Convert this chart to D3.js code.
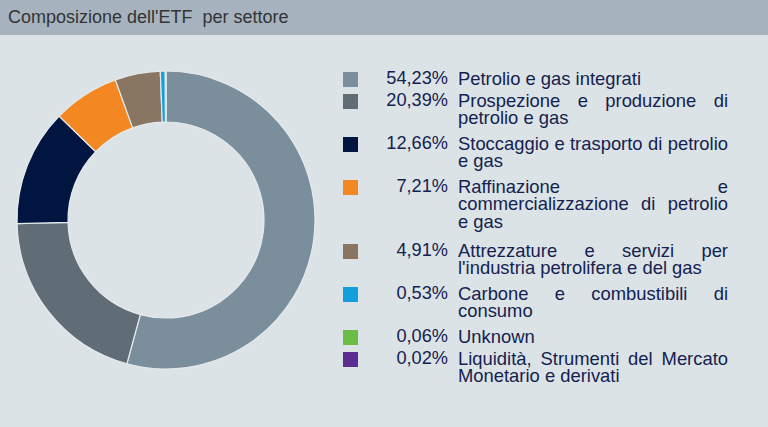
<!DOCTYPE html>
<html>
<head>
<meta charset="utf-8">
<script src="https://cdn.jsdelivr.net/npm/d3@7"></script>
<style>
  html, body { margin: 0; padding: 0; }
  body { width: 768px; height: 427px; background: #dce3e7; position: relative; overflow: hidden;
         font-family: "Liberation Sans", Arial, Helvetica, sans-serif; }
  #header { position: absolute; left: 0; top: 0; width: 768px; height: 35px; background: #a6b3bf; }
  #title { position: absolute; left: 8px; top: 6px; font-size: 18px; color: #333333; white-space: pre; line-height: 22px; }
  svg { position: absolute; left: 0; top: 0; }
  #legend { position: absolute; left: 343px; top: 68px; width: 400px; }
  .item { position: relative; }
  .sw { position: absolute; left: 0; top: 4px; width: 15px; height: 15px; }
  .pct { position: absolute; left: 40px; width: 65px; text-align: right; font-size: 18.2px; line-height: 17.3px; color: #132250; top: 2px; }
  .lab { position: absolute; left: 115px; width: 270px; text-align: justify; font-size: 18.4px; line-height: 17.3px; color: #132250; top: 2px; }
</style>
</head>
<body>
<div id="header"><div id="title"></div></div>
<div id="legend"></div>
<script>
const title = "Composizione dell'ETF  per settore";
const categories = [
  "Petrolio e gas integrati",
  "Prospezione e produzione di petrolio e gas",
  "Stoccaggio e trasporto di petrolio e gas",
  "Raffinazione e commercializzazione di petrolio e gas",
  "Attrezzature e servizi per l'industria petrolifera e del gas",
  "Carbone e combustibili di consumo",
  "Unknown",
  "Liquidità, Strumenti del Mercato Monetario e derivati"
];
const values = [54.23, 20.39, 12.66, 7.21, 4.91, 0.53, 0.06, 0.02];
const colors = ["#7a8e9c", "#606d77", "#001641", "#f38722", "#897662", "#139fdb", "#6cbd45", "#5b2d90"];

d3.select("#title").text(title);

const svg = d3.select("body").append("svg").attr("width", 768).attr("height", 427);
const g = svg.append("g").attr("transform", "translate(166,220)");
const pie = d3.pie().sort(null).value(d => d).startAngle(0).endAngle(2 * Math.PI);
const arc = d3.arc().innerRadius(98).outerRadius(149);
g.selectAll("path").data(pie(values)).join("path")
  .attr("d", arc)
  .attr("fill", (d, i) => colors[i])
  .attr("stroke", "#e4eaed")
  .attr("stroke-width", 1.2);

const fmt = v => v.toFixed(2).replace(".", ",") + "%";
const items = d3.select("#legend").selectAll("div.item").data(categories).join("div").attr("class", "item");
items.append("div").attr("class", "sw").style("background", (d, i) => colors[i]);
items.append("div").attr("class", "pct").text((d, i) => fmt(values[i]));
items.append("div").attr("class", "lab").text(d => d);
items.each(function() {
  const lab = this.querySelector(".lab");
  const n = Math.max(1, Math.round(lab.getBoundingClientRect().height / 17.3));
  this.style.height = (n * 21 + 1) + "px";
});
</script>
</body>
</html>
